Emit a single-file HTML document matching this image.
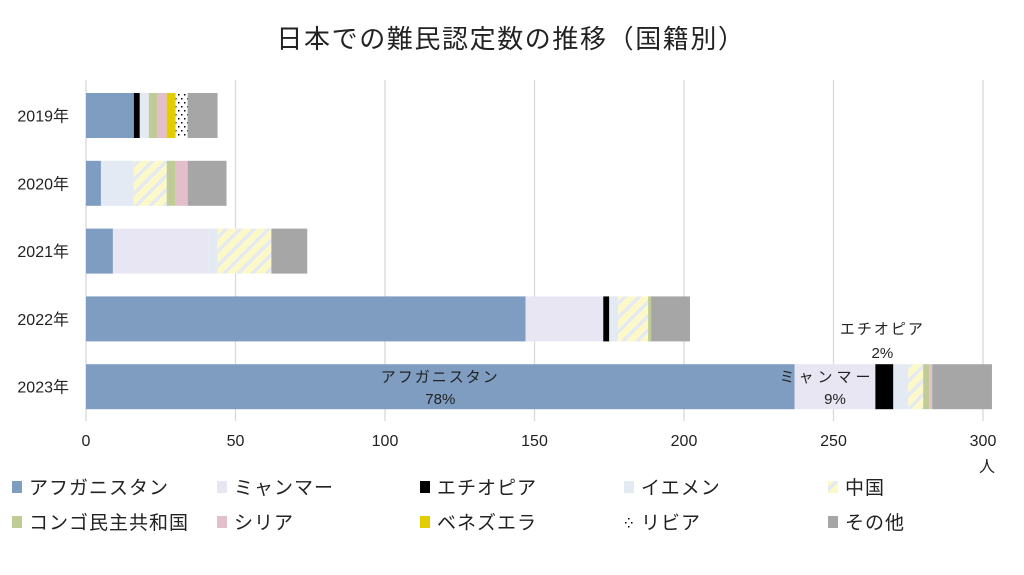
<!DOCTYPE html>
<html><head><meta charset="utf-8">
<style>
body{margin:0;background:#fff;}
svg{display:block;font-family:"Liberation Sans","Noto Sans CJK JP",sans-serif;}
</style></head>
<body>
<svg id="chart" width="1024" height="575" viewBox="0 0 1024 575">
<defs>
<pattern id="china" patternUnits="userSpaceOnUse" width="10" height="10" patternTransform="rotate(45)">
<rect width="10" height="10" fill="#fdf8c8"/><rect width="3.5" height="10" fill="#e3eaf2"/>
</pattern>
<pattern id="libya" patternUnits="userSpaceOnUse" width="6" height="8">
<rect width="6" height="8" fill="#fff"/><rect x="1" y="2" width="1.5" height="1.5" fill="#000"/><rect x="4" y="6" width="1.5" height="1.5" fill="#000"/>
</pattern>
</defs>
<text x="511" y="48" text-anchor="middle" font-size="26" letter-spacing="1.6" fill="#222">日本での難民認定数の推移（国籍別）</text>
<g id="grid"></g>
<g id="bars"></g>
<g id="labels"></g>
<g id="legend"></g>
</svg>
<script>
const years = ["2019年","2020年","2021年","2022年","2023年"];
const afghanistan = [16,5,9,147,237];
const myanmar = [0,0,32,26,27];
const ethiopia = [2,0,0,2,6];
const yemen = [3,11,3,3,5];
const china = [0,11,18,10,5];
const congo = [3,3,0,1,2];
const syria = [3,4,0,0,1];
const venezuela = [3,0,0,0,0];
const libya = [4,0,0,0,0];
const other = [10,13,12,13,20];
const ticks = [0,50,100,150,200,250,300];
const seriesNames = ["アフガニスタン","ミャンマー","エチオピア","イエメン","中国","コンゴ民主共和国","シリア","ベネズエラ","リビア","その他"];
const seriesData = [afghanistan,myanmar,ethiopia,yemen,china,congo,syria,venezuela,libya,other];
const fills = ["#7f9dc1","#e8e6f2","#000000","#e3eaf4","url(#china)","#bfcc96","#e3bfcb","#e2cd00","url(#libya)","#a6a6a6"];
const slugs = ["afghanistan","myanmar","ethiopia","yemen","china","congo","syria","venezuela","libya","other"];

const NS="http://www.w3.org/2000/svg";
const x0=86, x1=983, vmax=300;
const xs=v=>x0+(x1-x0)*v/vmax;
const rowTop=80, rowH=67.8, barH=45;
const ys=i=>rowTop+i*rowH+13;
function mk(tag,attrs,parent,text){const e=document.createElementNS(NS,tag);for(const k in attrs)e.setAttribute(k,attrs[k]);if(text!==undefined)e.textContent=text;parent.appendChild(e);return e;}
const grid=document.getElementById('grid'),bars=document.getElementById('bars'),labels=document.getElementById('labels'),legend=document.getElementById('legend');
ticks.forEach(t=>{
  const l=mk('line',{x1:xs(t),x2:xs(t),y1:80,y2:421,stroke:'#d9d9d9','stroke-width':1.3},grid);
  
  
  const tx=mk('text',{x:xs(t),y:446,'text-anchor':'middle','font-size':16,fill:'#222'},grid,String(t));
  
  
});
const unit=mk('text',{x:987,y:472,'text-anchor':'middle','font-size':16,fill:'#222'},grid,'人');


years.forEach((y,i)=>{
  const t=mk('text',{x:69,y:ys(i)+barH/2+6,'text-anchor':'end','font-size':16,fill:'#222'},labels,y);
  
  
  let acc=0;
  seriesData.forEach((arr,s)=>{
    const v=arr[i];
    if(v>0){
      const r=mk('rect',{x:xs(acc),y:ys(i),width:xs(acc+v)-xs(acc),height:barH,fill:fills[s]},bars);
      
      
    }
    acc+=v;
  });
});
const i=4;const tot=seriesData.reduce((a,arr)=>a+arr[i],0);
function ann(x,y,txt,name,ls){const t=mk('text',{x:x,y:y,'text-anchor':'middle','font-size':15,fill:'#222','letter-spacing':ls||0},labels,txt);}
ann(xs(afghanistan[i]/2),382,'アフガニスタン','label-afghanistan-2023',2);
ann(xs(afghanistan[i]/2),404,Math.round(afghanistan[i]/tot*100)+'%','pct-afghanistan-2023');
ann(xs(afghanistan[i]+myanmar[i]/2)-8,382,'ミャンマー','label-myanmar-2023',4);
ann(xs(afghanistan[i]+myanmar[i]/2),404,Math.round(myanmar[i]/tot*100)+'%','pct-myanmar-2023');
const ex=xs(afghanistan[i]+myanmar[i]+ethiopia[i]/2);
ann(ex-2,334,'エチオピア','label-ethiopia-2023',2);
ann(ex-2,358,Math.round(ethiopia[i]/tot*100)+'%','pct-ethiopia-2023');
const lx=[12,217,420,624,828];
seriesNames.forEach((n,s)=>{
  const col=s%5,row=Math.floor(s/5);
  const x=lx[col],y=row?522:487;
  const g=mk('g',{},legend);
  
  
  mk('rect',{x:x,y:y-6,width:10,height:12,fill:fills[s]},g);
  mk('text',{x:x+17,y:y+7,'font-size':19,fill:'#222','letter-spacing':1},g,n);
});
</script>
</body></html>
